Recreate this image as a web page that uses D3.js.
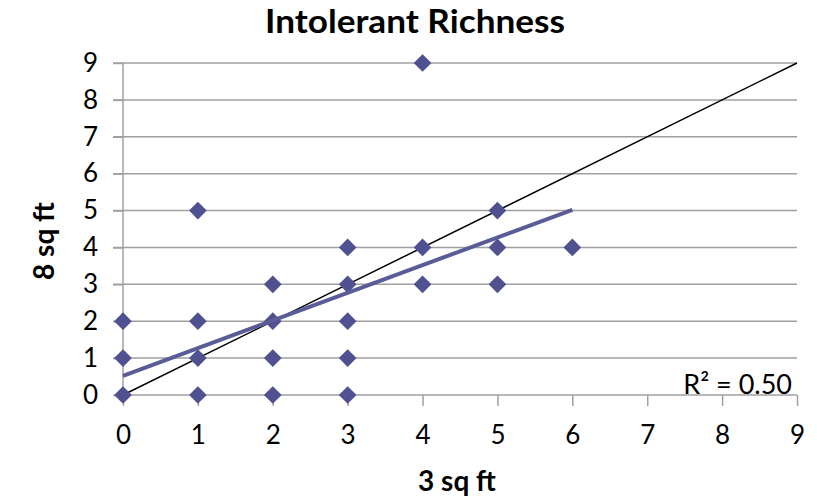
<!DOCTYPE html>
<html><head><meta charset="utf-8">
<script src="https://cdn.jsdelivr.net/npm/d3@7"></script>
<style>body{margin:0;background:#fff}</style>
</head><body>
<svg id="c" width="817" height="500"></svg>
<script>
const xValues = [0,0,0,1,1,1,1,2,2,2,2,3,3,3,3,3,4,4,4,5,5,5,6];
const yValues = [0,1,2,0,1,2,5,0,1,2,3,0,1,2,3,4,3,4,9,3,4,5,4];
const ticks = [0,1,2,3,4,5,6,7,8,9];
const trend = {slope: 0.75, intercept: 0.52, xMin: 0, xMax: 6};
const rSquaredLabel = "R² = 0.50";
const title = "Intolerant Richness";
const xTitle = "3 sq ft";
const yTitle = "8 sq ft";

const svg = d3.select("#c");
const font = "Lato, 'Open Sans', sans-serif";
const x = d3.scaleLinear().domain([0,9]).range([123,797]);
const y = d3.scaleLinear().domain([0,9]).range([395,63]);
const grid = "#a0a0a0";

svg.append("g").selectAll("line").data(ticks.filter(t=>t>0)).join("line")
  .attr("x1",113).attr("x2",797).attr("y1",d=>y(d)).attr("y2",d=>y(d))
  .attr("stroke",grid).attr("stroke-width",1.5);
const ya = svg.append("g").attr("transform","translate(123,0)")
  .call(d3.axisLeft(y).tickValues(ticks).tickSize(10).tickPadding(15));
const xa = svg.append("g").attr("transform","translate(0,395)")
  .call(d3.axisBottom(x).tickValues(ticks).tickSize(11).tickPadding(20));
[ya,xa].forEach(a=>{
  a.attr("font-size",null).attr("font-family",null);
  a.selectAll("path").attr("stroke",grid).attr("stroke-width",1.5);
  a.selectAll("line").attr("stroke",grid).attr("stroke-width",1.5);
  a.selectAll("text").attr("font-family",font).attr("font-size",26).attr("fill","#000");
});
ya.select(".domain").attr("d","M0,395V63");
xa.select(".domain").attr("d","M123,0H797");

svg.append("line").attr("x1",x(0)).attr("y1",y(0)).attr("x2",x(9)).attr("y2",y(9))
  .attr("stroke","#000").attr("stroke-width",1.5);

const sym = d3.symbol().type(d3.symbolDiamond2).size(200);
svg.append("g").selectAll("path").data(xValues.map((v,i)=>[v,yValues[i]])).join("path")
  .attr("d",sym).attr("transform",d=>`translate(${x(d[0])},${y(d[1])})`)
  .attr("fill","#4f5190");

svg.append("line")
  .attr("x1",x(trend.xMin)).attr("y1",y(trend.intercept+trend.slope*trend.xMin))
  .attr("x2",x(trend.xMax)).attr("y2",y(trend.intercept+trend.slope*trend.xMax))
  .attr("stroke","#5a5c98").attr("stroke-width",4);

svg.append("text").attr("x",792).attr("y",394).attr("text-anchor","end")
  .attr("font-family",font).attr("font-size",27).text(rSquaredLabel);

svg.append("text").attr("x",415).attr("y",33).attr("text-anchor","middle")
  .attr("font-family",font).attr("font-size",33).attr("font-weight","bold")
  .attr("textLength",300).attr("lengthAdjust","spacingAndGlyphs").text(title);
svg.append("text").attr("x",457).attr("y",491).attr("text-anchor","middle")
  .attr("font-family",font).attr("font-size",28).attr("font-weight","bold").text(xTitle);
svg.append("text").attr("transform","translate(54,241) rotate(-90)").attr("text-anchor","middle")
  .attr("font-family",font).attr("font-size",28).attr("font-weight","bold").text(yTitle);
</script>
</body></html>
